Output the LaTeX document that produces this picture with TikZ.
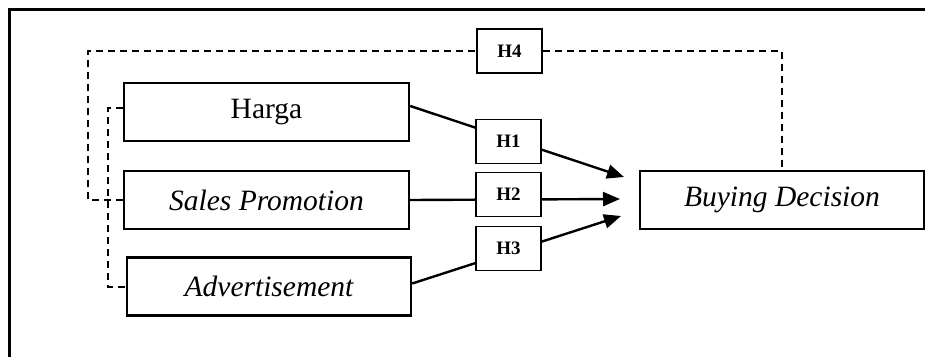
\documentclass[tikz,border=0pt]{standalone}
\usepackage{fontspec}
\setmainfont{Liberation Serif}
\usetikzlibrary{arrows.meta}
\begin{document}
\begin{tikzpicture}[x=1pt,y=-1pt,
 var/.style={draw, line width=2.4pt, minimum width=285pt, minimum height=58pt, inner sep=0pt, font=\fontsize{29.5}{35}\selectfont},
 hyp/.style={draw, line width=1.1pt, fill=white, minimum width=65pt, minimum height=44pt, inner sep=0pt, font=\fontsize{19}{22}\selectfont\bfseries},
 arr/.style={line width=2.4pt, -{Triangle[length=17pt,width=14pt]}},
 dsh/.style={line width=2pt, dash pattern=on 7pt off 5pt}]
\useasboundingbox (0,0) rectangle (925,356);
\draw[line width=2.8pt] (9.5,360) -- (9.5,9.5) -- (930,9.5);
\node[var] (harga) at (266.5,112) {Harga};
\node[var] (sales) at (266.5,200) {\itshape Sales Promotion};
\node[var, minimum width=284pt] (adv) at (269,286.5) {\itshape Advertisement};
\node[var, minimum width=284pt] (buy) at (782,200) {\itshape Buying Decision};
\coordinate (t1) at (624,177);
\coordinate (t2) at (620,199);
\coordinate (t3) at (621,216);
\draw[arr] ([yshift=6pt]harga.east) -- (t1);
\draw[arr] (sales.east) -- (t2);
\draw[arr] ([yshift=3pt]adv.east) -- (t3);
\node[hyp] (h1) at (508.5,141.5) {H1};
\node[hyp] (h2) at (508.5,194.5) {H2};
\node[hyp] (h3) at (508.5,248.5) {H3};
\node[hyp] (h4) at (509.5,51) {H4};
\draw[dsh] (sales.west) -- ++(-35,0) |- (h4.west);
\draw[dsh] (h4.east) -| (buy.north);
\draw[dsh] ([yshift=4pt]harga.west) -- ++(-15,0) |- (adv.west);
\end{tikzpicture}
\end{document}
